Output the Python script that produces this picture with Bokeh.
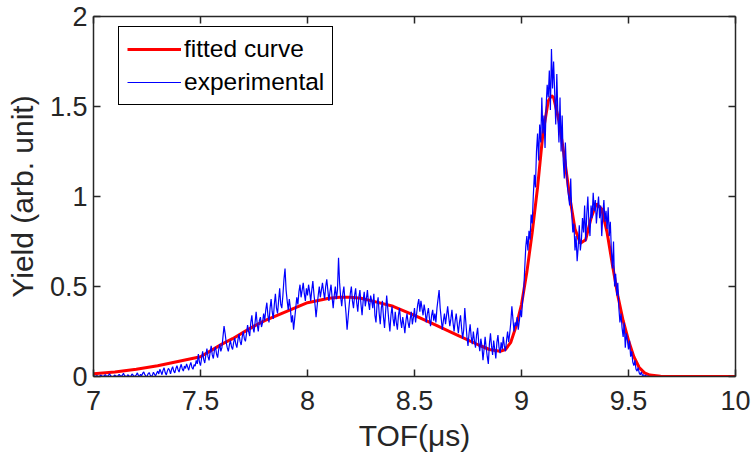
import numpy as np
from bokeh.plotting import figure
from bokeh.models import (Range1d, LinearAxis, FixedTicker, CustomJSTickFormatter,
                          CustomLabelingPolicy)
from bokeh.embed import file_html
from bokeh.resources import INLINE

# ---------------- data ----------------
x_ticks = [7, 7.5, 8, 8.5, 9, 9.5, 10]
y_ticks = [0, 0.5, 1, 1.5, 2]

fit_t = [7.00, 7.10, 7.20, 7.30, 7.40, 7.50, 7.60, 7.65, 7.70, 7.75, 7.80, 7.90, 8.00,
         8.10, 8.15, 8.20, 8.25, 8.30, 8.40, 8.50, 8.60, 8.70, 8.80, 8.85, 8.90, 8.925,
         8.95, 8.975, 9.00, 9.025, 9.05, 9.075, 9.10, 9.125, 9.14, 9.15, 9.175, 9.20,
         9.225, 9.25, 9.275, 9.30, 9.325, 9.35, 9.375, 9.40, 9.425, 9.45, 9.475, 9.50,
         9.525, 9.55, 9.575, 9.60, 9.65, 9.70, 10.00]
fit_y = [0.015, 0.025, 0.04, 0.06, 0.085, 0.11, 0.18, 0.21, 0.245, 0.28, 0.31, 0.36, 0.41,
         0.435, 0.44, 0.44, 0.435, 0.42, 0.39, 0.34, 0.285, 0.23, 0.175, 0.15, 0.14, 0.15,
         0.19, 0.28, 0.40, 0.58, 0.80, 1.05, 1.35, 1.53, 1.56, 1.55, 1.42, 1.22,
         1.00, 0.82, 0.74, 0.76, 0.88, 0.96, 0.93, 0.80, 0.62, 0.45, 0.31, 0.20,
         0.11, 0.05, 0.02, 0.008, 0.002, 0.0, 0.0]

exp_t_start = 7.0
exp_t_step = 0.005
exp_y = [
    0.000, 0.002, 0.000, 0.005, 0.001, 0.000, 0.003, 0.008, 0.002, 0.000, 0.004, 0.010, 0.003, 0.000, 0.006, 0.015, 0.004, 0.001, 0.000, 0.003,
    0.008, 0.002, 0.000, 0.005, 0.012, 0.004, 0.000, 0.007, 0.018, 0.006, 0.001, 0.000, 0.010, 0.004, 0.000, 0.002, 0.014, 0.007, 0.000, 0.003,
    0.009, 0.020, 0.006, 0.000, 0.012, 0.004, 0.018, 0.025, 0.010, 0.002, 0.000, 0.015, 0.022, 0.008, 0.000, 0.006, 0.024, 0.012, 0.003, 0.018,
    0.030, 0.014, 0.040, 0.026, 0.010, 0.035, 0.048, 0.022, 0.008, 0.030, 0.045, 0.036, 0.015, 0.040, 0.055, 0.030, 0.020, 0.044, 0.060, 0.038,
    0.025, 0.050, 0.068, 0.042, 0.030, 0.058, 0.045, 0.070, 0.052, 0.035, 0.062, 0.078, 0.050, 0.040, 0.066, 0.058, 0.090, 0.070, 0.125, 0.080,
    0.060, 0.100, 0.140, 0.095, 0.075, 0.120, 0.155, 0.110, 0.090, 0.135, 0.170, 0.120, 0.100, 0.145, 0.165, 0.125, 0.105, 0.150, 0.180, 0.140,
    0.160, 0.220, 0.280, 0.240, 0.190, 0.160, 0.140, 0.175, 0.200, 0.165, 0.150, 0.190, 0.215, 0.180, 0.160, 0.205, 0.235, 0.195, 0.175, 0.220,
    0.250, 0.210, 0.195, 0.240, 0.285, 0.250, 0.225, 0.300, 0.340, 0.270, 0.245, 0.300, 0.360, 0.290, 0.250, 0.310, 0.330, 0.275, 0.300, 0.350,
    0.310, 0.370, 0.410, 0.340, 0.300, 0.380, 0.430, 0.360, 0.320, 0.400, 0.460, 0.380, 0.350, 0.420, 0.490, 0.400, 0.380, 0.450, 0.540, 0.600,
    0.480, 0.420, 0.370, 0.430, 0.380, 0.300, 0.340, 0.260, 0.320, 0.380, 0.440, 0.400, 0.470, 0.510, 0.440, 0.480, 0.520, 0.460, 0.420, 0.490,
    0.450, 0.510, 0.470, 0.420, 0.480, 0.530, 0.460, 0.400, 0.330, 0.390, 0.450, 0.500, 0.440, 0.480, 0.520, 0.470, 0.430, 0.500, 0.540, 0.480,
    0.420, 0.470, 0.510, 0.440, 0.380, 0.450, 0.500, 0.430, 0.480, 0.660, 0.520, 0.440, 0.390, 0.460, 0.500, 0.420, 0.350, 0.260, 0.330, 0.400,
    0.460, 0.500, 0.420, 0.380, 0.450, 0.490, 0.410, 0.360, 0.440, 0.480, 0.400, 0.340, 0.420, 0.470, 0.390, 0.430, 0.480, 0.410, 0.370, 0.450,
    0.420, 0.380, 0.460, 0.340, 0.300, 0.400, 0.440, 0.350, 0.290, 0.380, 0.420, 0.330, 0.270, 0.360, 0.450, 0.380, 0.310, 0.250, 0.340, 0.390,
    0.320, 0.280, 0.360, 0.300, 0.260, 0.340, 0.380, 0.310, 0.270, 0.330, 0.290, 0.240, 0.310, 0.350, 0.300, 0.270, 0.320, 0.360, 0.290, 0.330,
    0.380, 0.300, 0.350, 0.400, 0.430, 0.360, 0.420, 0.380, 0.340, 0.400, 0.360, 0.300, 0.350, 0.380, 0.320, 0.280, 0.340, 0.370, 0.310, 0.350,
    0.300, 0.380, 0.430, 0.480, 0.380, 0.320, 0.260, 0.310, 0.350, 0.290, 0.340, 0.390, 0.330, 0.280, 0.320, 0.370, 0.300, 0.250, 0.310, 0.350,
    0.290, 0.240, 0.300, 0.340, 0.270, 0.210, 0.260, 0.380, 0.300, 0.220, 0.170, 0.240, 0.290, 0.220, 0.180, 0.250, 0.200, 0.160, 0.230, 0.270,
    0.190, 0.140, 0.210, 0.170, 0.090, 0.150, 0.220, 0.160, 0.110, 0.070, 0.180, 0.240, 0.170, 0.120, 0.200, 0.150, 0.100, 0.190, 0.230, 0.160,
    0.130, 0.190, 0.150, 0.220, 0.170, 0.140, 0.200, 0.250, 0.190, 0.240, 0.300, 0.390, 0.320, 0.250, 0.300, 0.280, 0.330, 0.260, 0.310, 0.370,
    0.330, 0.420, 0.470, 0.600, 0.720, 0.780, 0.700, 0.810, 0.760, 0.900, 0.850, 1.000, 1.120, 1.050, 1.250, 1.350, 1.200, 1.400, 1.300, 1.550,
    1.350, 1.450, 1.270, 1.500, 1.620, 1.550, 1.700, 1.480, 1.820, 1.600, 1.750, 1.580, 1.400, 1.680, 1.450, 1.300, 1.550, 1.250, 1.450, 1.200,
    1.100, 1.300, 1.150, 1.050, 1.000, 0.950, 1.100, 0.900, 0.800, 0.850, 0.700, 0.780, 0.640, 0.720, 0.840, 0.700, 0.760, 0.880, 0.800, 0.950,
    0.750, 0.900, 1.000, 0.850, 0.780, 0.950, 0.880, 1.020, 0.920, 0.980, 0.850, 0.930, 1.000, 0.880, 0.950, 0.780, 0.900, 0.980, 0.860, 0.920,
    0.820, 0.940, 0.780, 0.860, 0.700, 0.600, 0.750, 0.500, 0.570, 0.450, 0.520, 0.380, 0.300, 0.350, 0.270, 0.220, 0.300, 0.160, 0.240, 0.200,
    0.150, 0.200, 0.110, 0.140, 0.080, 0.060, 0.090, 0.040, 0.030, 0.050, 0.020, 0.010, 0.025, 0.005, 0.010, 0.000, 0.008, 0.000, 0.003, 0.000,
    0.000,
]
exp_t = [round(exp_t_start + i * exp_t_step, 4) for i in range(len(exp_y))]

# ---------------- figure ----------------
AX = "#262626"
FONT = "Liberation Sans"

p = figure(frame_width=642, frame_height=360, output_backend="svg", toolbar_location=None,
           x_range=Range1d(7, 10), y_range=Range1d(0, 2),
           min_border_left=93, min_border_right=17, min_border_top=16, min_border_bottom=83)
p.background_fill_color = "white"
p.border_fill_color = "white"
p.outline_line_color = None
p.xgrid.visible = False
p.ygrid.visible = False

p.line(fit_t, fit_y, line_color="#FF0000", line_width=3, legend_label="fitted curve")
p.line(exp_t, exp_y, line_color="#0000FF", line_width=1.2, legend_label="experimental")

fmt = CustomJSTickFormatter(code="return String(Math.round(tick*10)/10);")

def style_axis(ax, ticks, show_labels):
    ax.ticker = FixedTicker(ticks=ticks)
    ax.formatter = fmt
    ax.axis_line_color = AX
    ax.axis_line_width = 1.5
    ax.major_tick_line_color = AX
    ax.major_tick_line_width = 1.5
    ax.major_tick_in = 7
    ax.major_tick_out = 0
    ax.minor_tick_line_color = None
    ax.major_label_text_font = FONT
    ax.major_label_text_color = AX
    ax.major_label_text_font_size = "27px"
    ax.axis_label_text_font = FONT
    ax.axis_label_text_font_style = "normal"
    ax.axis_label_text_color = AX
    ax.axis_label_text_font_size = "30px"
    if not show_labels:
        ax.major_label_policy = CustomLabelingPolicy(code="return []")
        ax.major_label_text_font_size = "1px"
        ax.major_label_standoff = 0

xa = p.xaxis[0]
ya = p.yaxis[0]
style_axis(xa, x_ticks, True)
style_axis(ya, y_ticks, True)
xa.axis_label = "TOF(μs)"
ya.axis_label = "Yield (arb. unit)"
xa.major_label_standoff = 14
ya.major_label_standoff = 6
xa.axis_label_standoff = 6
ya.axis_label_standoff = 8

top = LinearAxis()
right = LinearAxis()
style_axis(top, x_ticks, False)
style_axis(right, y_ticks, False)
p.add_layout(top, "above")
p.add_layout(right, "right")

lg = p.legend[0]
lg.location = (25, 271)
lg.label_text_font = FONT
lg.label_text_font_size = "24.5px"
lg.label_text_color = "black"
lg.border_line_color = "black"
lg.border_line_alpha = 1
lg.border_line_width = 1
lg.background_fill_color = "white"
lg.background_fill_alpha = 1
lg.padding = 8
lg.spacing = 5
lg.margin = 0
lg.glyph_width = 54
lg.glyph_height = 24
lg.label_height = 24
lg.label_standoff = 3

open("out.html", "w").write(file_html(p, INLINE))
